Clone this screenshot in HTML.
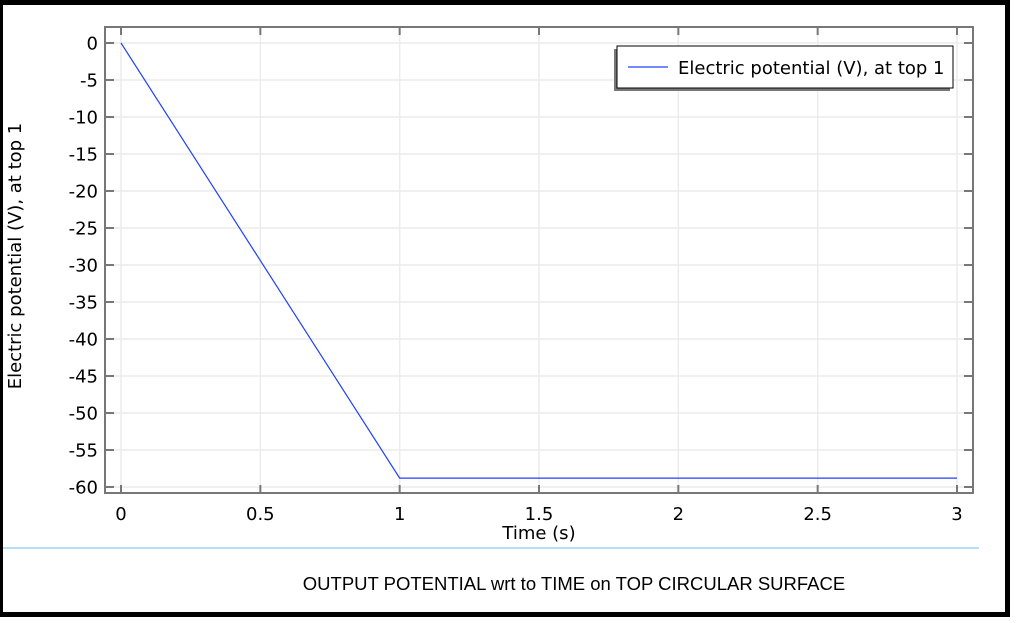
<!DOCTYPE html>
<html><head><meta charset="utf-8"><style>
html,body{margin:0;padding:0;background:#fff;width:1019px;height:623px;overflow:hidden}
svg{display:block}
text{font-family:"DejaVu Sans","Liberation Sans",sans-serif;fill:#000}
</style></head><body>
<svg width="1019" height="623">
<rect x="0" y="0" width="1010" height="617" fill="#000"/>
<rect x="3" y="5" width="1002" height="607" fill="#fff"/>
<g id="grid"></g>
<rect x="105" y="27" width="868" height="466" fill="none" stroke="#777" stroke-width="2"/>
<g id="ticks"></g>
<polyline id="series" fill="none" stroke="#2040ff" stroke-width="1.2"/>
<text x="539" y="539" font-size="18" text-anchor="middle">Time (s)</text>
<text transform="translate(21,256) rotate(-90)" font-size="18" text-anchor="middle">Electric potential (V), at top 1</text>
<g>
<rect x="614" y="49" width="336" height="42" fill="#777"/>
<rect x="617" y="46" width="336" height="42" fill="#fff" stroke="#000" stroke-width="1"/>
<line x1="628" y1="67" x2="668" y2="67" stroke="#2040ff" stroke-width="1.3"/>
<text x="678" y="74" font-size="18">Electric potential (V), at top 1</text>
</g>
<line x1="3" y1="548" x2="979" y2="548" stroke="#99d5f5" stroke-width="1.5"/>
<text x="574" y="590" font-size="18.5" text-anchor="middle" style="font-family:'Liberation Sans',sans-serif">OUTPUT POTENTIAL wrt to TIME on TOP CIRCULAR SURFACE</text>
</svg>
<script>
const times=[0,1,1.5,2,2.5,3];
const potentials=[0,-58.8,-58.8,-58.8,-58.8,-58.8];
const xTicks=[0,0.5,1,1.5,2,2.5,3];
const xTickLabels=["0","0.5","1","1.5","2","2.5","3"];
const yTicks=[0,-5,-10,-15,-20,-25,-30,-35,-40,-45,-50,-55,-60];
const yTickLabels=["0","-5","-10","-15","-20","-25","-30","-35","-40","-45","-50","-55","-60"];
const NS="http://www.w3.org/2000/svg";
const X=v=>121+v*(957-121)/3;
const Y=v=>43-v*(487-43)/60;
const grid=document.getElementById('grid'),ticks=document.getElementById('ticks');
function mk(tag,attrs,parent){const e=document.createElementNS(NS,tag);for(const k in attrs)e.setAttribute(k,attrs[k]);parent.appendChild(e);return e;}
xTicks.forEach((t,i)=>{
 const g=mk('line',{x1:X(t),x2:X(t),y1:27,y2:493,stroke:'#ececec','stroke-width':1.5},grid);
 
 
 const a=mk('line',{x1:X(t),x2:X(t),y1:493,y2:485,stroke:'#777','stroke-width':2},ticks);
 
 
 mk('line',{x1:X(t),x2:X(t),y1:27,y2:35,stroke:'#777','stroke-width':2},ticks);
 const tx=mk('text',{x:X(t),y:520,'font-size':18,'text-anchor':'middle'},ticks);
 tx.textContent=xTickLabels[i];
 
 
});
yTicks.forEach((t,i)=>{
 const g=mk('line',{x1:105,x2:973,y1:Y(t),y2:Y(t),stroke:'#ececec','stroke-width':1.5},grid);
 
 
 const a=mk('line',{x1:105,x2:114,y1:Y(t),y2:Y(t),stroke:'#777','stroke-width':2},ticks);
 
 
 mk('line',{x1:964,x2:973,y1:Y(t),y2:Y(t),stroke:'#777','stroke-width':2},ticks);
 const tx=mk('text',{x:98,y:Y(t)+6.5,'font-size':18,'text-anchor':'end'},ticks);
 tx.textContent=yTickLabels[i];
 
 
});
document.getElementById('series').setAttribute('points',times.map((t,i)=>X(t)+','+Y(potentials[i])).join(' '));
</script>
</body></html>
